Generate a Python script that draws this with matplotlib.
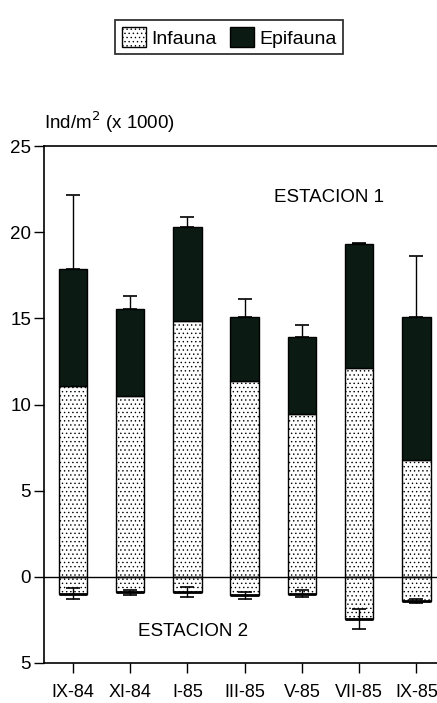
import matplotlib
matplotlib.use("Agg")
import matplotlib.pyplot as plt
import numpy as np

# densidades (Ind/m2 x 1000), estacion 1 arriba y estacion 2 abajo
meses = ["IX-84", "XI-84", "I-85", "III-85", "V-85", "VII-85", "IX-85"]
infauna_e1 = [11.1, 10.5, 14.85, 11.35, 9.45, 12.1, 6.8]
total_e1 = [17.9, 15.55, 20.3, 15.1, 13.9, 19.35, 15.1]
err_total_e1 = [4.25, 0.75, 0.6, 1.05, 0.7, 0.05, 3.5]
infauna_e2 = [0.97, 0.9, 0.9, 1.08, 0.97, 2.44, 1.41]
err_e2 = [0.3, 0.15, 0.3, 0.18, 0.18, 0.57, 0.12]

plt.rcParams['font.family'] = ['Liberation Sans', 'DejaVu Sans']
plt.rcParams['hatch.linewidth'] = 0.5
plt.rcParams['hatch.color'] = '#a0a0a0'

fig = plt.figure(figsize=(4.37, 7.03), dpi=100)
ax = fig.add_axes([0.1, 0.057, 0.9, 0.735])

x = np.arange(len(meses))
epifauna_e1 = np.array(total_e1) - np.array(infauna_e1)
w = 0.5

b1 = ax.bar(x, infauna_e1, w, color='white', edgecolor='black', hatch='....', linewidth=1.0)
b2 = ax.bar(x, epifauna_e1, w, bottom=infauna_e1, color='#0b1a12', edgecolor='black', linewidth=1.0)
ax.errorbar(x, total_e1, yerr=[np.zeros(len(x)), err_total_e1], fmt='none',
            ecolor='black', elinewidth=1.0, capsize=5, capthick=1.2)

neg = -np.array(infauna_e2)
ax.bar(x, neg, w, color='white', edgecolor='black', hatch='....', linewidth=1.0)
# borde inferior mas grueso
ax.hlines(neg, x - w / 2, x + w / 2, color='black', linewidth=2.0)
ax.errorbar(x, neg, yerr=err_e2, fmt='none', ecolor='black', elinewidth=1.0, capsize=5, capthick=1.2)

ax.axhline(0, color='black', linewidth=1.0)

ax.set_xlim(-0.51, 6.36)
ax.set_ylim(-5, 25)
ax.set_yticks([-5, 0, 5, 10, 15, 20, 25])
ax.set_yticklabels(['5', '0', '5', '10', '15', '20', '25'])
ax.set_xticks(x)
ax.set_xticklabels(meses)
ax.tick_params(axis='y', labelsize=13.5, length=7, width=1.0, pad=2)
ax.tick_params(axis='x', labelsize=13, length=7, width=1.0, pad=8)
ax.spines['right'].set_visible(False)
for s in ['left', 'top', 'bottom']:
    ax.spines[s].set_linewidth(1.2)

ax.text(4.47, 22.0, "ESTACION 1", ha='center', va='center', fontsize=13.5)
ax.text(2.1, -3.2, "ESTACION 2", ha='center', va='center', fontsize=13.5)
fig.text(0.1, 0.826, "Ind/m$^{2}$ (x 1000)", ha='left', va='center', fontsize=13.5)

leg = fig.legend([b1, b2], ["Infauna", "Epifauna"], loc='center', bbox_to_anchor=(0.524, 0.947),
                 ncol=2, frameon=True, fancybox=False, edgecolor='black', fontsize=14,
                 handlelength=1.25, handleheight=1.25, handletextpad=0.25, columnspacing=0.7,
                 borderpad=0.35)
leg.get_frame().set_linewidth(1.3)

fig.savefig("out.png", dpi=100)
